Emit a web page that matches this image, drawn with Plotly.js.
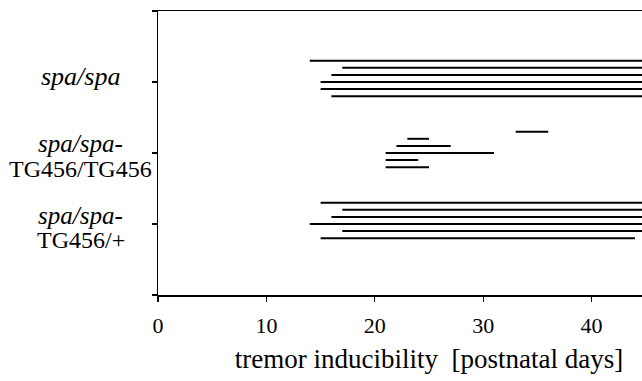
<!DOCTYPE html>
<html>
<head>
<meta charset="utf-8">
<script src="https://cdn.plot.ly/plotly-3.0.1.min.js"></script>
<style>html,body{margin:0;padding:0;background:#fff;overflow:hidden;width:642px;height:381px;}</style>
</head>
<body>
<div id="chart" style="width:700px;height:381px;"></div>
<script>
// Genotype groups (y position index: 1 = bottom)
const groupNames = ['spa/spa-TG456/+', 'spa/spa-TG456/TG456', 'spa/spa'];
const groupIndex = [1, 2, 3];

// Tremor inducibility intervals per animal [postnatal days] (figure is cropped on the right near day 45)
const spaStart   = [14, 17, 16, 15, 15, 16];
const spaEnd     = [50, 50, 50, 50, 50, 50];
const tgtgStart  = [33, 23, 22, 21, 21, 21];
const tgtgEnd    = [36, 25, 27, 31, 24, 25];
const tgpStart   = [15, 17, 16, 14, 17, 15];
const tgpEnd     = [50, 50, 50, 50, 50, 44];

const xTicks = [0, 10, 20, 30, 40, 50];
const yTicks = [0, 1, 2, 3, 4];

const starts = [tgpStart, tgtgStart, spaStart];
const ends   = [tgpEnd, tgtgEnd, spaEnd];

const xs = [], ys = [];
groupIndex.forEach((g, gi) => {
  const s = starts[gi], e = ends[gi];
  for (let i = 0; i < s.length; i++) {
    const y = g + 0.3 - 0.1 * i;
    xs.push(s[i], e[i], null);
    ys.push(y, y, null);
  }
});

const trace = {
  x: xs, y: ys, type: 'scatter', mode: 'lines',
  line: {color: '#000', width: 2},
  hoverinfo: 'skip', showlegend: false
};

const serif = 'Liberation Serif, Times New Roman, serif';
const lab = (text, y, shift, size) => ({
  text: text, xref: 'paper', yref: 'y', x: -0.1425, y: y, yshift: shift,
  xanchor: 'center', yanchor: 'middle', showarrow: false,
  font: {family: serif, size: size, color: '#000'}
});

const annotations = [
  lab('<i>' + groupNames[2] + '</i>', 3, 6, 26),
  lab('<i>spa/spa-</i>', 2, 9.2, 25),
  lab('TG456/TG456', 2, -16, 24),
  lab('<i>spa/spa-</i>', 1, 8.8, 25),
  lab('TG456/+', 1, -16, 24)
];

const layout = {
  width: 700, height: 381,
  margin: {l: 158, r: 0, t: 11, b: 86},
  paper_bgcolor: '#fff', plot_bgcolor: '#fff',
  font: {family: serif, color: '#000'},
  xaxis: {
    range: [0, 50], tickvals: xTicks, ticktext: xTicks.map(String),
    showgrid: false, zeroline: false,
    showline: true, mirror: true, linecolor: '#000', linewidth: 1.5,
    ticks: 'outside', ticklen: 5, tickwidth: 1.2, tickcolor: '#000',
    tickfont: {family: serif, size: 22, color: '#000'},
    ticklabelstandoff: 5,
    title: {text: 'tremor inducibility  [postnatal days]', font: {family: serif, size: 27, color: '#000'}, standoff: 12}
  },
  yaxis: {
    range: [0, 4], tickvals: yTicks, ticktext: yTicks.map(() => ''),
    showgrid: false, zeroline: false,
    showline: true, mirror: false, linecolor: '#000', linewidth: 1.5,
    ticks: 'outside', ticklen: 5, tickwidth: 1.2, tickcolor: '#000'
  },
  annotations: annotations
};

Plotly.newPlot('chart', [trace], layout, {displayModeBar: false, staticPlot: true});
</script>
</body>
</html>
